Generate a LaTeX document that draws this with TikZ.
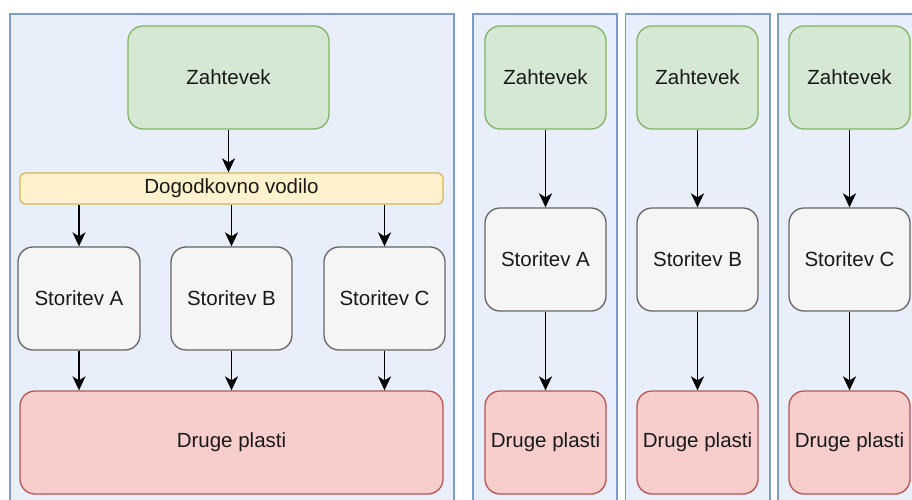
\documentclass[tikz,border=0pt]{standalone}
\usepackage{fontspec}
\setmainfont{Liberation Sans}
\usetikzlibrary{arrows.meta}
\definecolor{panelfill}{HTML}{E8EEFA}
\definecolor{panelline}{HTML}{7D9BCB}
\definecolor{greenfill}{HTML}{D5E8D4}
\definecolor{greenline}{HTML}{82B366}
\definecolor{yellowfill}{HTML}{FFF2CC}
\definecolor{yellowline}{HTML}{D6B656}
\definecolor{grayfill}{HTML}{F5F5F5}
\definecolor{grayline}{HTML}{666666}
\definecolor{redfill}{HTML}{F8CECC}
\definecolor{redline}{HTML}{B85450}
\tikzset{
  panel/.style={draw=panelline, fill=panelfill, line width=1.3pt},
  box/.style={rounded corners=15pt, line width=1.3pt, inner sep=0pt,
    minimum height=103pt, font=\fontsize{20.5}{24}\selectfont, text=black!90},
  reqbox/.style={box, draw=greenline, fill=greenfill},
  svcbox/.style={box, draw=grayline, fill=grayfill},
  layerbox/.style={box, draw=redline, fill=redfill},
  busbox/.style={box, rounded corners=5pt, minimum height=31pt, draw=yellowline, fill=yellowfill},
  arr/.style={line width=1.8pt, -{Stealth[length=14pt,width=13pt,inset=4pt]}}
}
\begin{document}
\begin{tikzpicture}[x=1pt,y=-1pt]
\useasboundingbox (0,0) rectangle (912,500);
\clip (0,0) rectangle (912,500);
% panels
\path[panel] (10,14) rectangle (454,512);
\path[panel] (473,14) rectangle (617,512);
\path[panel] (625.5,14) rectangle (770,512);
\path[panel] (778,14) rectangle (925,512);
% left panel
\node[reqbox, minimum width=201pt] (zl) at (228.5,77.5) {Zahtevek};
\node[busbox, minimum width=423pt] (bus) at (231.5,188.5) {Dogodkovno vodilo};
\node[svcbox, minimum width=122pt] (sa) at (79,298.5) {Storitev A};
\node[svcbox, minimum width=121pt] (sb) at (231.5,298.5) {Storitev B};
\node[svcbox, minimum width=121pt] (sc) at (384.5,298.5) {Storitev C};
\node[layerbox, minimum width=423pt] (dl) at (231.5,442.5) {Druge plasti};
\draw[arr] (zl.south) -- (zl.south |- bus.north);
\foreach \s in {sa,sb,sc}{
  \draw[arr] (\s.north |- bus.south) -- (\s.north);
  \draw[arr] (\s.south) -- (\s.south |- dl.north);
}
% right panels
\foreach \i/\x/\l in {1/545.5/A,2/697.5/B,3/849.5/C}{
  \node[reqbox, minimum width=121pt] (z\i) at (\x,77.5) {Zahtevek};
  \node[svcbox, minimum width=121pt] (s\i) at (\x,259.5) {Storitev \l};
  \node[layerbox, minimum width=121pt] (d\i) at (\x,442.5) {Druge plasti};
  \draw[arr] (z\i) -- (s\i);
  \draw[arr] (s\i) -- (d\i);
}
\end{tikzpicture}
\end{document}
